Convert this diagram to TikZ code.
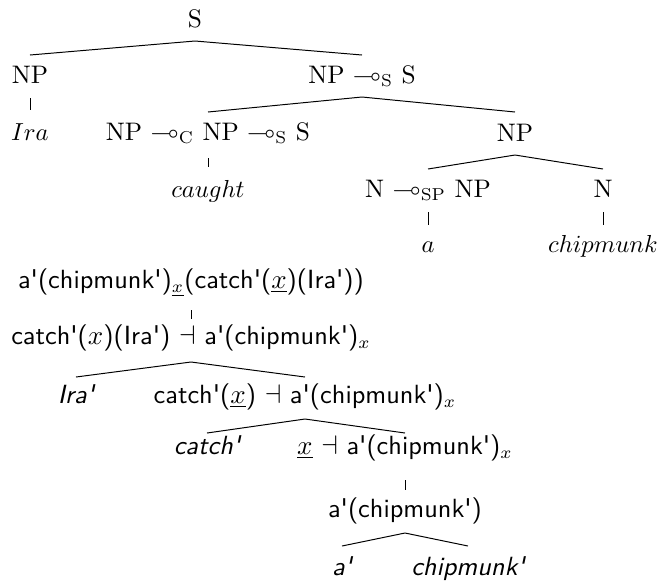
\documentclass[tikz,border=0pt]{standalone}
\usepackage{amssymb}
\usetikzlibrary{calc}
\newcommand{\apos}{\textquotesingle}
\begin{document}
\begin{tikzpicture}[x=0.4065pt,y=-0.4065pt,
  lbl/.style={anchor=base,inner sep=0pt,outer sep=0pt,font=\fontsize{10.3}{12.5}\selectfont},
  sem/.style={lbl,font=\fontsize{10.7}{13}\selectfont\sffamily},
  semword/.style={lbl,font=\fontsize{10.7}{13}\selectfont\sffamily\itshape},
  branch/.style={line width=0.4pt}]
\useasboundingbox (0,0) rectangle (659,580);

% syntactic tree
\node[lbl] (s)      at (195,27)  {S};
\node[lbl] (np1)    at (30,83)   {NP};
\node[lbl] (vp)     at (362,83)  {NP $\multimap_{\mathrm{S}}$ S};
\node[lbl] (ira)    at (30,140)  {$Ira$};
\node[lbl] (tv)     at (208,140) {NP $\multimap_{\mathrm{C}}$ NP $\multimap_{\mathrm{S}}$ S};
\node[lbl] (np2)    at (515,141) {NP};
\node[lbl] (caught) at (208,197) {$caught$};
\node[lbl] (det)    at (428,197) {N $\multimap_{\mathrm{SP}}$ NP};
\node[lbl] (n)      at (603,197) {N};
\node[lbl] (a)      at (428,252) {$a$};
\node[lbl] (chip)   at (603,252) {$chipmunk$};

\draw[branch] ($(np1.base)+(0,-28)$) -- ($(s.base)+(0,14)$) -- ($(vp.base)+(0,-28)$);
\draw[branch] ($(np1.base)+(0,15)$) -- ($(ira.base)+(0,-30)$);
\draw[branch] ($(tv.base)+(0,-28)$) -- ($(vp.base)+(0,14)$) -- ($(np2.base)+(0,-29)$);
\draw[branch] ($(tv.base)+(0,18)$) -- ($(caught.base)+(0,-30)$);
\draw[branch] ($(det.base)+(0,-28)$) -- ($(np2.base)+(0,14)$) -- ($(n.base)+(0,-28)$);
\draw[branch] ($(det.base)+(0,15)$) -- ($(a.base)+(0,-27)$);
\draw[branch] ($(n.base)+(0,15)$) -- ($(chip.base)+(0,-27)$);

% semantic derivation
\node[sem] (m1) at (191,288) {a\apos(chipmunk\apos)$_{\underline{x}}$(catch\apos($\underline{x}$)(Ira\apos))};
\node[sem] (m2) at (191,344) {catch\apos($x$)(Ira\apos) $\dashv$ a\apos(chipmunk\apos)$_x$};
\node[semword] (iraw) at (76,403) {Ira\apos};
\node[sem] (m3) at (305,403) {catch\apos($\underline{x}$) $\dashv$ a\apos(chipmunk\apos)$_x$};
\node[semword] (catchw) at (207,454) {catch\apos};
\node[sem] (m4) at (405,454) {$\underline{x}$ $\dashv$ a\apos(chipmunk\apos)$_x$};
\node[sem] (m5) at (405,517) {a\apos(chipmunk\apos)};
\node[semword] (aw)  at (342,575) {a\apos};
\node[semword] (chw) at (468,575) {chipmunk\apos};

\draw[branch] ($(m1.base)+(0,22)$) -- ($(m2.base)+(0,-25)$);
\draw[branch] ($(iraw.base)+(0,-26)$) -- ($(m2.base)+(0,18)$) -- ($(m3.base)+(0,-26)$);
\draw[branch] ($(catchw.base)+(0,-21)$) -- ($(m3.base)+(0,16)$) -- ($(m4.base)+(0,-21)$);
\draw[branch] ($(m4.base)+(0,26)$) -- ($(m5.base)+(0,-27)$);
\draw[branch] ($(aw.base)+(0,-29)$) -- ($(m5.base)+(0,16)$) -- ($(chw.base)+(0,-29)$);
\end{tikzpicture}
\end{document}
